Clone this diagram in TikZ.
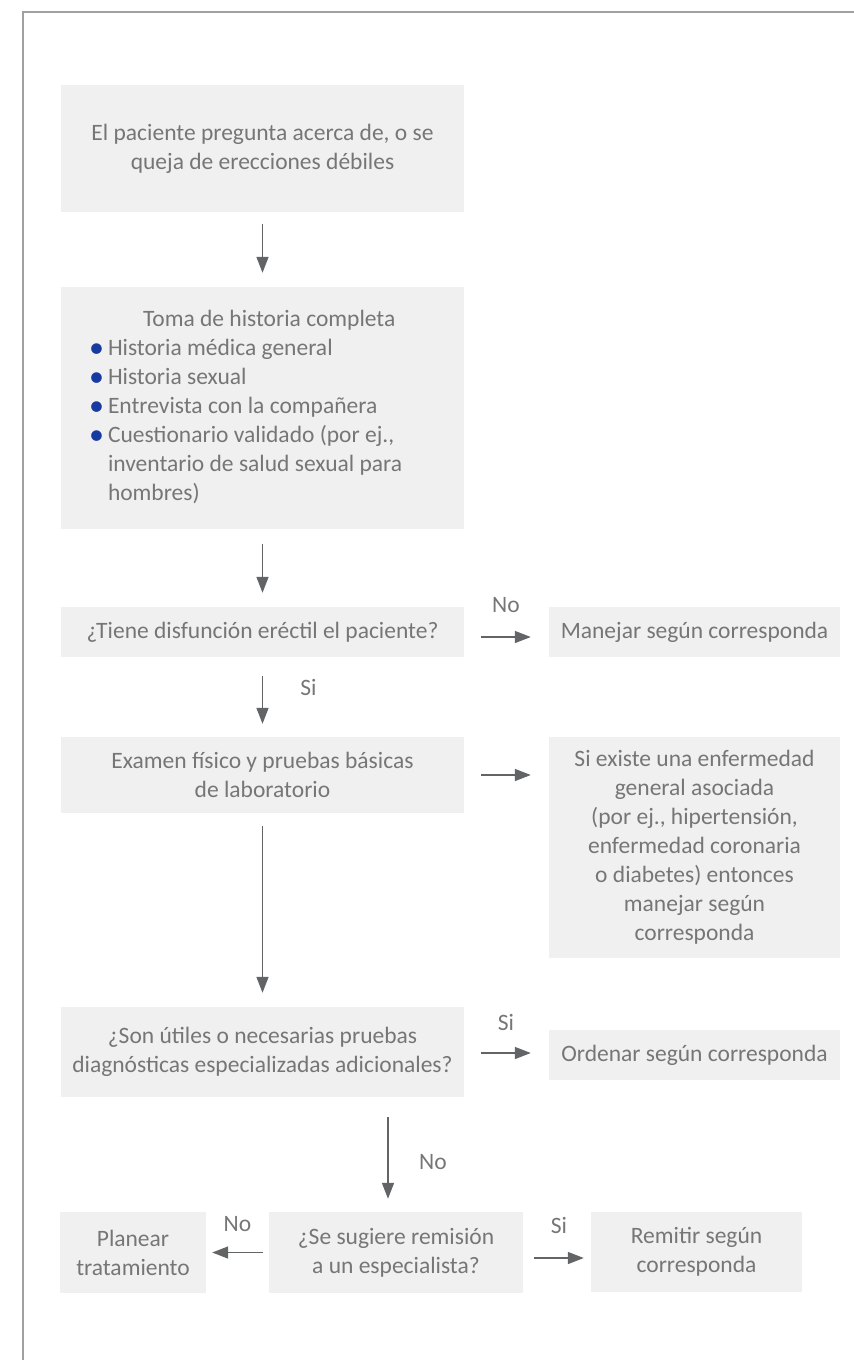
\documentclass[tikz,border=0pt]{standalone}
\usepackage{fontspec}
\setmainfont{Carlito}
\usepackage{xcolor}
\usepackage{tikz}
\usetikzlibrary{arrows.meta,positioning,calc}
\definecolor{boxgray}{RGB}{240,240,240}
\definecolor{txtgray}{RGB}{118,118,118}
\definecolor{arrgray}{RGB}{99,100,102}
\definecolor{framegray}{RGB}{160,160,160}
\definecolor{dotblue}{RGB}{22,58,160}
\newcommand{\bul}{\makebox[19pt][l]{\textcolor{dotblue}{\fontsize{30pt}{29pt}\selectfont\raisebox{-1.5pt}{\textbullet}}}}

\begin{document}
\begin{tikzpicture}[
    x=1pt, y=-1pt,
    every node/.style={font=\fontsize{23.5pt}{29pt}\selectfont, text=txtgray},
    box/.style={fill=boxgray, align=center, inner sep=0pt},
    arr/.style={draw=arrgray, line width=1.5pt, -{Triangle[length=16pt,width=12pt]}},
    lbl/.style={inner sep=0pt},
]
\useasboundingbox (0,0) rectangle (854,1360);

% Frame
\draw[framegray, line width=1.5pt] (23,1360) -- (23,12) -- (854,12);

% Main column
\node[box, minimum width=403pt, minimum height=127pt] (start) at (262.5,148.5)
    {El paciente pregunta acerca de, o se\\queja de erecciones débiles};
\node[box, minimum width=403pt, minimum height=242pt] (hist) at (262.5,408) {};
\node[anchor=west, align=left, inner sep=0pt] (histtxt) at ([xshift=28pt,yshift=1pt]hist.west)
    {\hspace*{54pt}Toma de historia completa\\
     \bul Historia médica general\\
     \bul Historia sexual\\
     \bul Entrevista con la compañera\\
     \bul Cuestionario validado (por ej.,\\
     \hspace*{19pt}inventario de salud sexual para\\
     \hspace*{19pt}hombres)};
\node[box, minimum width=403pt, minimum height=50pt] (q1) at (262.5,632)
    {¿Tiene disfunción eréctil el paciente?};
\node[box, minimum width=403pt, minimum height=76pt] (exam) at (262.5,775)
    {Examen físico y pruebas básicas\\de laboratorio};
\node[box, minimum width=403pt, minimum height=90pt] (q2) at (262.5,1052)
    {¿Son útiles o necesarias pruebas\\diagnósticas especializadas adicionales?};

% Right column
\node[box, minimum width=291pt, minimum height=50pt] (mgr) at (694.5,632)
    {Manejar según corresponda};
\node[box, minimum width=291pt, minimum height=221pt] (ill) at (694.5,847.5)
    {Si existe una enfermedad\\general asociada\\(por ej., hipertensión,\\enfermedad coronaria\\o diabetes) entonces\\manejar según\\corresponda};
\node[box, minimum width=291pt, minimum height=50pt] (ord) at (694.5,1055)
    {Ordenar según corresponda};

% Bottom row
\node[box, minimum width=254pt, minimum height=81pt] (q3) at (396,1252.5)
    {¿Se sugiere remisión\\a un especialista?};
\node[box, minimum width=146pt, minimum height=81pt] (plan) at (133,1252.5)
    {Planear\\tratamiento};
\node[box, minimum width=211pt, minimum height=80pt] (remit) at (696.5,1252)
    {Remitir según\\corresponda};

% Connectors
\draw[arr] ([yshift=-12pt]start.south) -- ([yshift=14pt]hist.north);
\draw[arr] ([yshift=-15pt]hist.south) -- ([yshift=14pt]q1.north);
\draw[arr] ([yshift=-19pt]q1.south) -- ([yshift=13pt]exam.north)
    node[lbl, midway, xshift=46pt, yshift=13pt] {Si};
\draw[arr] ([yshift=-13pt]exam.south) -- ([yshift=14pt]q2.north);
\draw[arr] ([xshift=125.5pt,yshift=-20pt]q2.south) -- ([xshift=-8pt,yshift=13pt]q3.north)
    node[lbl, midway, xshift=45pt, yshift=-4pt] {No};

\draw[arr] ([xshift=17pt,yshift=-5pt]q1.east) -- ([xshift=-18pt,yshift=-5pt]mgr.west)
    node[lbl, midway, yshift=32pt] {No};
\draw[arr] ([xshift=17pt]exam.east) -- ([xshift=-18pt]exam.east -| ill.west);
\draw[arr] ([xshift=17pt,yshift=-1pt]q2.east) -- ([xshift=-18pt,yshift=-1pt]q2.east -| ord.west)
    node[lbl, midway, yshift=31pt] {Si};

\draw[arr] ([xshift=-6pt]q3.west) -- ([xshift=6pt]plan.east)
    node[lbl, midway, yshift=28pt] {No};
\draw[arr] ([xshift=11pt,yshift=-5.5pt]q3.east) -- ([xshift=-7pt,yshift=-5.5pt]q3.east -| remit.west)
    node[lbl, midway, yshift=33pt] {Si};
\end{tikzpicture}
\end{document}
